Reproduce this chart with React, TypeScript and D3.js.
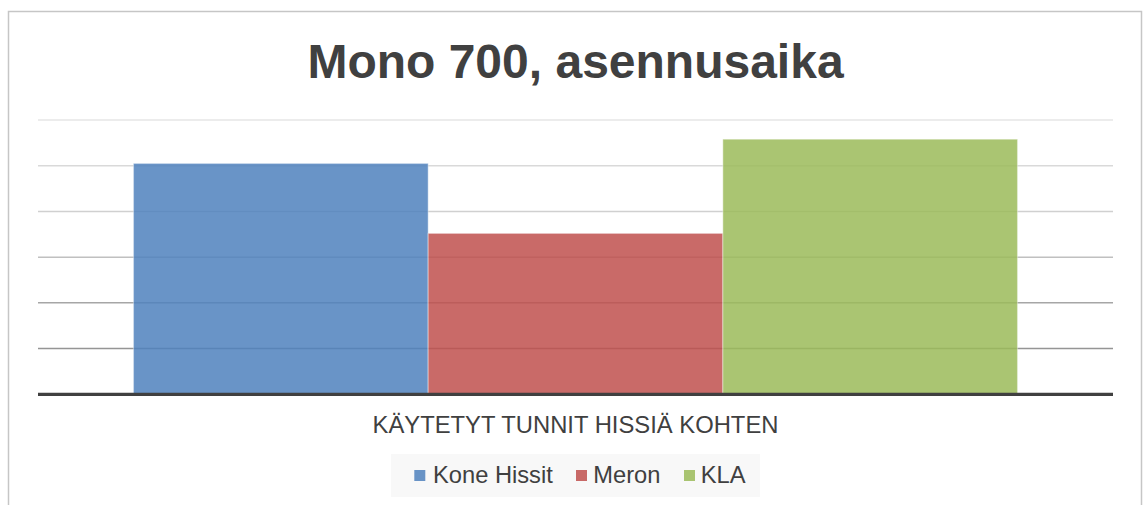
import React from "react";
import * as d3 from "d3";

const title = "Mono 700, asennusaika";
const categories = ["KÄYTETYT TUNNIT HISSIÄ KOHTEN"];
const seriesNames = ["Kone Hissit", "Meron", "KLA"];
const seriesValues = [5.05, 3.52, 5.58];
const yTicks = [0, 1, 2, 3, 4, 5, 6];

const colors = ["#4f81bd", "#c0504d", "#9bbb59"];
const gridColors = ["#404040", "#959595", "#a6a6a6", "#c0c0c0", "#d0d0d0", "#d9d9d9", "#e6e6e6"];

const W = 1143;
const H = 505;
const plotLeft = 38;
const plotRight = 1113;
const plotTop = 120;
const plotBottom = 394.3;
const font = "'Liberation Sans', Arial, sans-serif";

export default function App() {
  const y = d3.scaleLinear().domain([0, 6]).range([plotBottom, plotTop]);
  const x0 = d3.scaleBand<string>().domain(categories).range([plotLeft, plotRight]).paddingInner(0).paddingOuter(0.108);
  const x1 = d3.scaleBand<string>().domain(seriesNames).range([0, x0.bandwidth()]).padding(0);

  const legendItems = [
    { name: seriesNames[0], sq: 414.3, tx: 433 },
    { name: seriesNames[1], sq: 576, tx: 593.3 },
    { name: seriesNames[2], sq: 684, tx: 700.7 },
  ];

  return (
    <svg width={W} height={H} style={{ position: "absolute", left: 0, top: 0, background: "#fff" }}>
      <rect x={8.5} y={11.5} width={1133} height={H} fill="#fff" stroke="#c6c6c6" strokeWidth={1.5} />
      <text x={575.5} y={78} textAnchor="middle" fontFamily={font} fontWeight="bold" fontSize={48} fill="#404040">
        {title}
      </text>
      {yTicks.filter((t) => t > 0).map((t) => (
        <line key={t} x1={plotLeft} x2={plotRight} y1={y(t)} y2={y(t)} stroke={gridColors[t]} strokeWidth={1.5} />
      ))}
      {categories.map((c) => (
        <g key={c} transform={`translate(${x0(c)},0)`}>
          {seriesNames.map((s, i) => (
            <rect
              key={s}
              x={x1(s)!}
              y={y(seriesValues[i])}
              width={x1.bandwidth()}
              height={y(0) - y(seriesValues[i])}
              fill={colors[i]}
              fillOpacity={0.85}
              stroke="#ffffff"
              strokeOpacity={0.35}
              strokeWidth={1.2}
            />
          ))}
        </g>
      ))}
      <line x1={plotLeft} x2={plotRight} y1={y(0)} y2={y(0)} stroke="#404040" strokeWidth={3.2} />
      {categories.map((c) => (
        <text key={c} x={x0(c)! + x0.bandwidth() / 2} y={432.5} textAnchor="middle" fontFamily={font} fontSize={23.8} fill="#404040">
          {c}
        </text>
      ))}
      <rect x={391} y={454} width={369} height={43} fill="#f8f8f8" />
      {legendItems.map((it, i) => (
        <g key={it.name}>
          <rect x={it.sq} y={470} width={11} height={11} fill={colors[i]} fillOpacity={0.85} />
          <text x={it.tx} y={482.5} fontFamily={font} fontSize={23.7} fill="#404040">
            {it.name}
          </text>
        </g>
      ))}
    </svg>
  );
}
